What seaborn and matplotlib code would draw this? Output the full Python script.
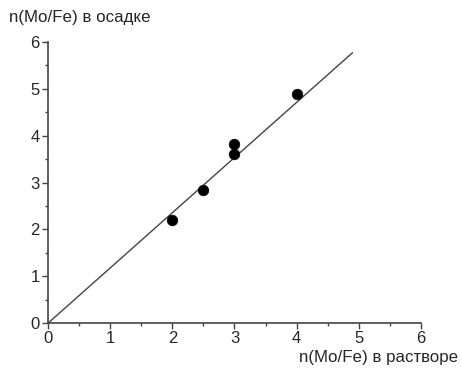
import matplotlib
matplotlib.use("Agg")
import matplotlib.pyplot as plt
from matplotlib.ticker import MultipleLocator
import numpy as np
import pandas as pd
import seaborn as sns

# measured points: Mo/Fe ratio in solution vs in precipitate
x_solution = [2.0, 2.5, 3.0, 3.0, 4.0]
y_precip = [2.2, 2.85, 3.6, 3.83, 4.88]

# straight fit line through the origin
line_x = [0.0, 4.9]
line_y = [0.0, 5.77]

sns.set_style("ticks")
plt.rcParams['font.family'] = ['Liberation Sans', 'DejaVu Sans']

df = pd.DataFrame({'x': x_solution, 'y': y_precip})
df_line = pd.DataFrame({'x': line_x, 'y': line_y})

fig = plt.figure(figsize=(4.62, 3.71), dpi=100)
ax = fig.add_axes([0.104, 0.129, 0.807, 0.758])

sns.lineplot(data=df_line, x='x', y='y', ax=ax, color='#444444', linewidth=1.0)
sns.scatterplot(data=df, x='x', y='y', ax=ax, color='black', s=58, edgecolor='black', linewidth=0.5, zorder=3)

ax.set_xlim(0, 6)
ax.set_ylim(0, 6)
ax.xaxis.set_major_locator(MultipleLocator(1))
ax.yaxis.set_major_locator(MultipleLocator(1))
ax.xaxis.set_minor_locator(MultipleLocator(0.5))
ax.yaxis.set_minor_locator(MultipleLocator(0.5))
ax.tick_params(which='major', length=4, width=1, labelsize=12, pad=2, color='#444444')
ax.tick_params(which='minor', length=2.5, width=1, color='#444444')
for s in ['left', 'bottom']:
    ax.spines[s].set_linewidth(1.2)
    ax.spines[s].set_color('#444444')
sns.despine(ax=ax)

ax.set_xlabel('')
ax.set_ylabel('')
fig.text(0.02, 0.952, 'n(Mo/Fe) в осадке', fontsize=12.2, ha='left', va='center')
fig.text(0.992, 0.036, 'n(Mo/Fe) в растворе', fontsize=12.2, ha='right', va='center')

fig.savefig('out.png', dpi=100)
